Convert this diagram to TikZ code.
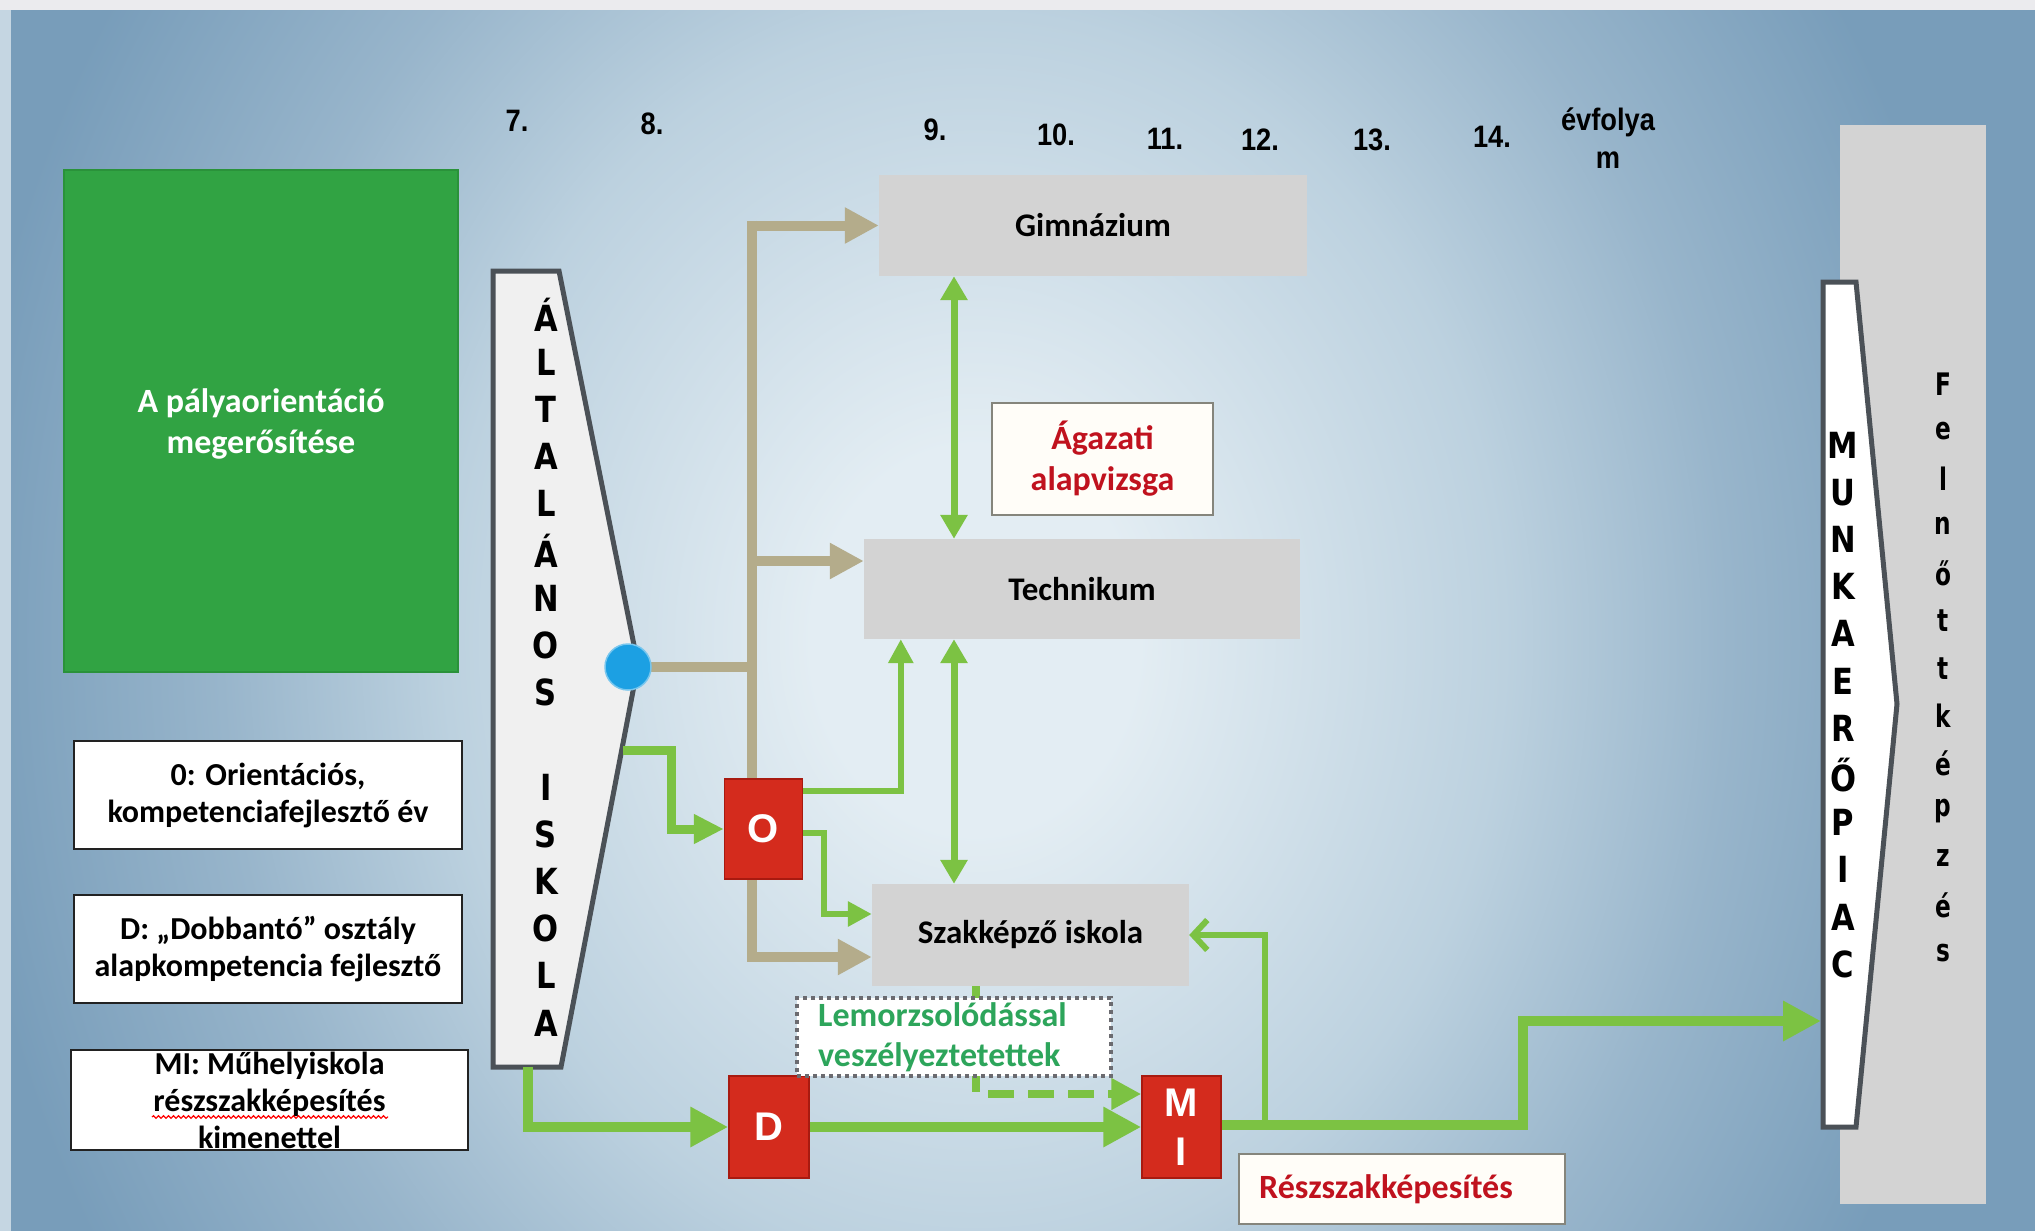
\documentclass[tikz,border=0pt]{standalone}
\usepackage{fontspec}
\setmainfont{Carlito}
\newfontfamily\arialf{Liberation Sans}
\newfontfamily\arialn[FakeStretch=0.88]{Liberation Sans}
\newfontfamily\dejav[FakeStretch=0.85]{DejaVu Sans}
\newfontfamily\dejaf[FakeStretch=0.75]{DejaVu Sans}
\usetikzlibrary{arrows.meta,calc,decorations.pathmorphing}
\definecolor{bgA}{HTML}{E3EDF3}
\definecolor{bgB}{HTML}{BCD1DF}
\definecolor{bgD}{HTML}{98B5CB}
\definecolor{bgC}{HTML}{789DBA}
\definecolor{topband}{HTML}{EBEBEE}
\definecolor{leftstrip}{HTML}{C5D6E2}
\definecolor{grayb}{HTML}{D3D3D3}
\definecolor{tanc}{HTML}{B4AC8B}
\definecolor{grn}{HTML}{7CC243}
\definecolor{redc}{HTML}{D42B1D}
\definecolor{reddark}{HTML}{A81A10}
\definecolor{darkredc}{HTML}{C0121E}
\definecolor{txtgreen}{HTML}{2DA55B}
\definecolor{greenc}{HTML}{31A343}
\definecolor{greendark}{HTML}{2A923A}
\definecolor{shapeline}{HTML}{4B5157}
\definecolor{shapefill}{HTML}{F0F0F0}
\definecolor{bluec}{HTML}{1CA0E3}
\definecolor{legborder}{HTML}{222222}
\definecolor{cream}{HTML}{FFFDF8}
\definecolor{notegray}{HTML}{85857C}
\definecolor{dotgray}{HTML}{6B6B70}
\pgfdeclareradialshading{bgshade}{\pgfpoint{0bp}{0bp}}{color(0bp)=(bgA); color(8bp)=(bgA); color(26bp)=(bgB); color(37bp)=(bgD); color(50bp)=(bgC)}
\begin{document}
\begin{tikzpicture}[x=1pt,y=-1pt,
  gbox/.style={fill=grayb, inner sep=0pt, font=\bfseries\fontsize{33}{40}\selectfont},
  legbox/.style={fill=white, draw=legborder, line width=2pt, inner sep=0pt, align=center, font=\bfseries\fontsize{32}{37}\selectfont},
  redbox/.style={fill=redc, draw=reddark, line width=1.5pt, inner sep=0pt, text=white, font=\arialf\bfseries\fontsize{40}{49}\selectfont, align=center},
  noteR/.style={fill=cream, draw=notegray, line width=2pt, inner sep=0pt},
  tanline/.style={draw=tanc, line width=10pt},
  tanarrow/.style={tanline, -{Triangle[length=34pt,width=34pt]}},
  garrow/.style={draw=grn, line width=9pt, -{Triangle[length=30pt,width=28pt]}},
  gthin/.style={draw=grn, line width=6pt, -{Triangle[length=24pt,width=24pt]}},
  gthick/.style={draw=grn, line width=10pt, -{Triangle[length=38pt,width=38pt]}},
  gdbl/.style={draw=grn, line width=7pt, {Triangle[length=24pt,width=26pt]}-{Triangle[length=24pt,width=26pt]}},
  gdash/.style={draw=grn, line width=8pt, dash pattern=on 26pt off 14pt, -{Triangle[length=30pt,width=30pt]}},
  gchev/.style={draw=grn, line width=6pt, -{Straight Barb[length=14pt,width=30pt]}},
  vlet/.style={inner sep=0pt, font=\dejav\bfseries\fontsize{36}{36}\selectfont},
  flet/.style={inner sep=0pt, font=\dejaf\bfseries\fontsize{31}{31}\selectfont},
  num/.style={inner sep=0pt, font=\arialn\bfseries\fontsize{31}{38}\selectfont},
  outline/.style={draw=shapeline, line width=5pt, line join=miter}
]
% background
\useasboundingbox (0,0) rectangle (2035,1231);
\fill[bgC] (0,0) rectangle (2035,1231);
\begin{scope}
  \clip (0,0) rectangle (2035,1231);
  \pgftransformshift{\pgfpoint{975pt}{-640pt}}
  \pgftransformxscale{20.3}
  \pgftransformyscale{24}
  \pgflowlevelsynccm
  \pgfuseshading{bgshade}
\end{scope}
\fill[leftstrip] (0,0) rectangle (11,1231);
\fill[topband] (0,0) rectangle (2035,10);

% year numbers
\node[num] (n7) at (517,121) {7.};
\node[num] (n8) at (652,124) {8.};
\node[num] (n9) at (935,130) {9.};
\node[num] (n10) at (1056,135) {10.};
\node[num] (n11) at (1165,139) {11.};
\node[num] (n12) at (1260,140) {12.};
\node[num] (n13) at (1372,140) {13.};
\node[num] (n14) at (1492,137) {14.};
\node[num, align=center] (evf) at (1608,138) {évfolya\\m};

% green box
\node[fill=greenc, draw=greendark, line width=2pt, minimum width=394pt, minimum height=502pt] (orient) at (261,421) {};
\node[inner sep=0pt, text=white, align=center, font=\bfseries\fontsize{34}{41}\selectfont] (orientt)
      at (261,424) {A pályaorientáció\\megerősítése};

% legend boxes
\node[legbox, minimum width=388pt, minimum height=108pt] (leg1) at (268,795)
  {0: Orientációs,\\kompetenciafejlesztő év};
\node[legbox, minimum width=388pt, minimum height=108pt] (leg2) at (268,949)
  {D: „Dobbantó” osztály\\alapkompetencia fejlesztő};
\node[legbox, minimum width=397pt, minimum height=100pt] (leg3) at (269.5,1100)
  {MI: Műhelyiskola\\részszakképesítés\\kimenettel};
\draw[red, line width=1.2pt, decorate, decoration={snake, amplitude=1.3pt, segment length=5pt}]
  ($(leg3.west)+(82,17)$) -- ($(leg3.west)+(318,17)$);

% school boxes
\node[gbox, minimum width=428pt, minimum height=101pt] (gim) at (1093,225.5) {Gimnázium};
\node[gbox, minimum width=436pt, minimum height=100pt] (tech) at (1082,589) {Technikum};
\node[gbox, minimum width=317pt, minimum height=102pt] (szak) at (1030.5,935) {Szakképző iskola};
\node[noteR, minimum width=221pt, minimum height=112pt, text=darkredc, align=center,
      font=\bfseries\fontsize{34}{41}\selectfont] (agaz) at (1102.5,459) {Ágazati\\alapvizsga};

% Felnőttképzés
\node[fill=grayb, inner sep=0pt, minimum width=146pt, minimum height=1079pt] (feln) at (1913,664.5) {};
\foreach \l [count=\i from 0] in {F,e,l,n,ő,t,t,k,é,p,z,é,s}
  \node[flet] (fl\i) at (1943,{384+\i*47.4}) {\l};

% Munkaerőpiac shape
\draw[outline, fill=white] (1823,282) -- (1856,282) -- (1897,704) -- (1856,1127) -- (1823,1127) -- cycle;
\foreach \l [count=\i from 0] in {M,U,N,K,A,E,R,Ő,P,I,A,C}
  \node[vlet] (ml\i) at (1843,{445+\i*47.2}) {\l};
\coordinate (mkIn) at (1821,1021);

% Általános iskola shape
\draw[outline, fill=shapefill] (493,271) -- (559,271) -- (638,665) -- (561,1067) -- (493,1067) -- cycle;
\foreach \l [count=\i from 0] in {Á,L,T,A,L,Á,N,O,S}
  \node[vlet] (al\i) at (546,{315+\i*47.2}) {\l};
\foreach \l [count=\i from 10] in {I,S,K,O,L,A}
  \node[vlet] (al\i) at (546,{315+\i*47.2}) {\l};
\coordinate (altR) at (623,750);
\coordinate (altB) at (528,1067);

% tan connectors
\coordinate (tTop) at (752,225.5);
\coordinate (tMid) at (752,561);
\coordinate (tBot) at (752,957);
\node[circle, fill=bluec, minimum size=46pt, inner sep=0pt] (circ) at (628,667) {};
\draw[tanline] ($(tTop)+(0,-5)$) -- ($(tBot)+(0,5)$);
\draw[tanline] (circ.east) -- ($(tTop |- circ.east)+(5,0)$);
\draw[tanarrow] (tTop) -- (gim.west);
\draw[tanarrow] (tMid) -- (tMid -| tech.west);
\draw[tanarrow] (tBot) -- (tBot -| szak.west);
\node[circle, fill=bluec, draw=bluec!60!white, line width=1.5pt, minimum size=46pt, inner sep=0pt] at (circ) {};

% red boxes
\node[redbox, minimum width=78pt, minimum height=100pt] (O) at (763.5,829) {O};
\node[redbox, minimum width=80pt, minimum height=102pt] (D) at (769,1127) {D};
\node[redbox, minimum width=79pt, minimum height=102pt] (MI) at (1181.5,1127) {M\\I};

% green connectors
\coordinate (vx) at (954,0);
\coordinate (dx) at (976,0);
\coordinate (brk) at (1265,1125);
\draw[garrow] (altR) -- ++(48,0) |- (O.west);
\draw[gthin] ($(O.north east)+(0,13)$) -| ($(tech.south west)+(37,0)$);
\draw[gthin] ($(O.east)+(0,4)$) -- ++(21,0) |- ($(szak.west)+(0,-21)$);
\draw[gdbl] (vx |- gim.south) -- (vx |- tech.north);
\draw[gdbl] (vx |- tech.south) -- (vx |- szak.north);
\draw[gthick] (altB) |- (D.west);
\draw[gthick] (D.east) -- (MI.west);
\draw[gdash] (dx |- szak.south) |- ($(MI.west)+(0,-33)$);
\draw[gthick] ($(MI.east)+(0,-2)$) -- ++(301,0) |- (mkIn);
\draw[gchev] (brk) |- (szak.east);

% Lemorzsolódással box
\node[fill=white, draw=dotgray, line width=3.5pt, dash pattern=on 4pt off 4pt, inner sep=0pt,
      minimum width=314pt, minimum height=78pt] (lemor) at (954,1037) {};
\node[anchor=west, inner sep=0pt, align=left, text=txtgreen, font=\bfseries\fontsize{34}{40}\selectfont]
  (lemort) at (818,1037) {Lemorzsolódással\\veszélyeztetettek};

% Részszakképesítés box
\node[noteR, minimum width=326pt, minimum height=70pt] (resz) at (1402,1189) {};
\node[anchor=west, inner sep=0pt, text=darkredc, font=\bfseries\fontsize{34}{40}\selectfont]
  (reszt) at (1259,1189) {Részszakképesítés};
\end{tikzpicture}
\end{document}
